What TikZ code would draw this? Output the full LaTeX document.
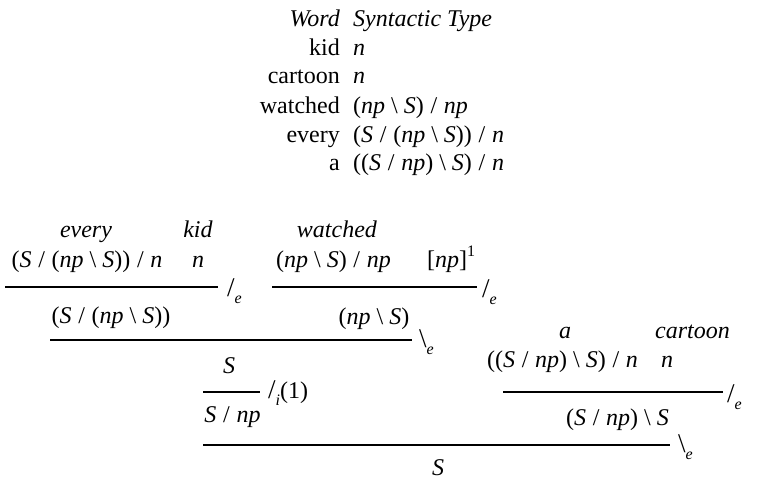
\documentclass[tikz,border=0pt]{standalone}
\usepackage{fontspec}
\setmainfont{Liberation Serif}
% type-logical notation
\newcommand{\cv}[1]{\textit{#1}}
\newcommand{\rsl}{\hspace{0.28em}/\hspace{0.28em}}
\newcommand{\lsl}{\hspace{0.25em}\textbackslash\hspace{0.25em}}
\newcommand{\rsub}[1]{\raisebox{-0.3em}{\fontsize{16}{16}\selectfont\itshape #1}}
\newcommand{\rsup}[1]{\raisebox{0.45em}{\fontsize{16}{16}\selectfont #1}}
\newcommand{\rulesl}{{\fontsize{27}{27}\selectfont /}}
\newcommand{\rulebs}{{\fontsize{27}{27}\selectfont \textbackslash}}
\begin{document}
\begin{tikzpicture}[x=1pt,y=-1pt,
  every node/.style={inner sep=0pt, font=\fontsize{24}{28}\selectfont},
  lbl/.style={anchor=base},
  lbll/.style={anchor=base west},
  lblr/.style={anchor=base east},
  bar/.style={line width=1.6pt}]
\useasboundingbox (0,0) rectangle (763,482);

% lexicon
\node[lblr] (w0) at (340,26) {\cv{Word}};
\node[lbll] (t0) at (353,26) {\cv{Syntactic Type}};
\node[lblr] (w1) at (340,55) {kid};
\node[lbll] (t1) at (353,55) {\cv{n}};
\node[lblr] (w2) at (340,83) {cartoon};
\node[lbll] (t2) at (353,83) {\cv{n}};
\node[lblr] (w3) at (340,113) {watched};
\node[lbll] (t3) at (353,113) {(\cv{np}\lsl\cv{S})\rsl\cv{np}};
\node[lblr] (w4) at (340,142) {every};
\node[lbll] (t4) at (353,142) {(\cv{S}\rsl(\cv{np}\lsl\cv{S}))\rsl\cv{n}};
\node[lblr] (w5) at (340,170) {a};
\node[lbll] (t5) at (353,170) {((\cv{S}\rsl\cv{np})\lsl\cv{S})\rsl\cv{n}};

% every kid
\node[lbl] (every) at (86,237) {\cv{every}};
\node[lbl] (kid) at (198,237) {\cv{kid}};
\node[lbl] (everyT) at (87,267) {(\cv{S}\rsl(\cv{np}\lsl\cv{S}))\rsl\cv{n}};
\node[lbl] (kidT) at (198,267) {\cv{n}};
\coordinate (b1l) at (5,287);  \coordinate (b1r) at (218,287);
\draw[bar] (b1l) -- (b1r);
\node[lbll] (r1) at (227,296) {\rulesl\rsub{e}};
\node[lbl] (ek) at (111,323) {(\cv{S}\rsl(\cv{np}\lsl\cv{S}))};

% watched [np]
\node[lbl] (watched) at (337,237) {\cv{watched}};
\node[lbl] (watchedT) at (333.5,267) {(\cv{np}\lsl\cv{S})\rsl\cv{np}};
\node[lbll] (hyp) at (427,267) {[\cv{np}]\rsup{1}};
\coordinate (b3l) at (272,287);  \coordinate (b3r) at (477,287);
\draw[bar] (b3l) -- (b3r);
\node[lbll] (r3) at (482,297) {\rulesl\rsub{e}};
\node[lbl] (vp) at (374,324) {(\cv{np}\lsl\cv{S})};

% S
\coordinate (b2l) at (50,340);  \coordinate (b2r) at (412,340);
\draw[bar] (b2l) -- (b2r);
\node[lbll] (r2) at (419,347) {\rulebs\rsub{e}};
\node[lbl] (s1) at (229,373) {\cv{S}};

% introduction
\coordinate (b4l) at (203,392);  \coordinate (b4r) at (260,392);
\draw[bar] (b4l) -- (b4r);
\node[lbll] (r4) at (268,398) {\rulesl\rsub{i}(1)};
\node[lbl] (snp) at (232.5,422) {\cv{S}\rsl\cv{np}};

% a cartoon
\node[lbl] (a) at (565,338) {\cv{a}};
\node[lbl] (cartoon) at (692.5,338) {\cv{cartoon}};
\node[lbl] (aT) at (562.5,367) {((\cv{S}\rsl\cv{np})\lsl\cv{S})\rsl\cv{n}};
\node[lbl] (cartoonT) at (667,367) {\cv{n}};
\coordinate (b6l) at (503,392);  \coordinate (b6r) at (723,392);
\draw[bar] (b6l) -- (b6r);
\node[lbll] (r6) at (727,402) {\rulesl\rsub{e}};
\node[lbl] (ac) at (617.5,425) {(\cv{S}\rsl\cv{np})\lsl\cv{S}};

% conclusion
\coordinate (b5l) at (203,445);  \coordinate (b5r) at (670,445);
\draw[bar] (b5l) -- (b5r);
\node[lbll] (r5) at (678,452) {\rulebs\rsub{e}};
\node[lbl] (s2) at (438,475) {\cv{S}};
\end{tikzpicture}
\end{document}
